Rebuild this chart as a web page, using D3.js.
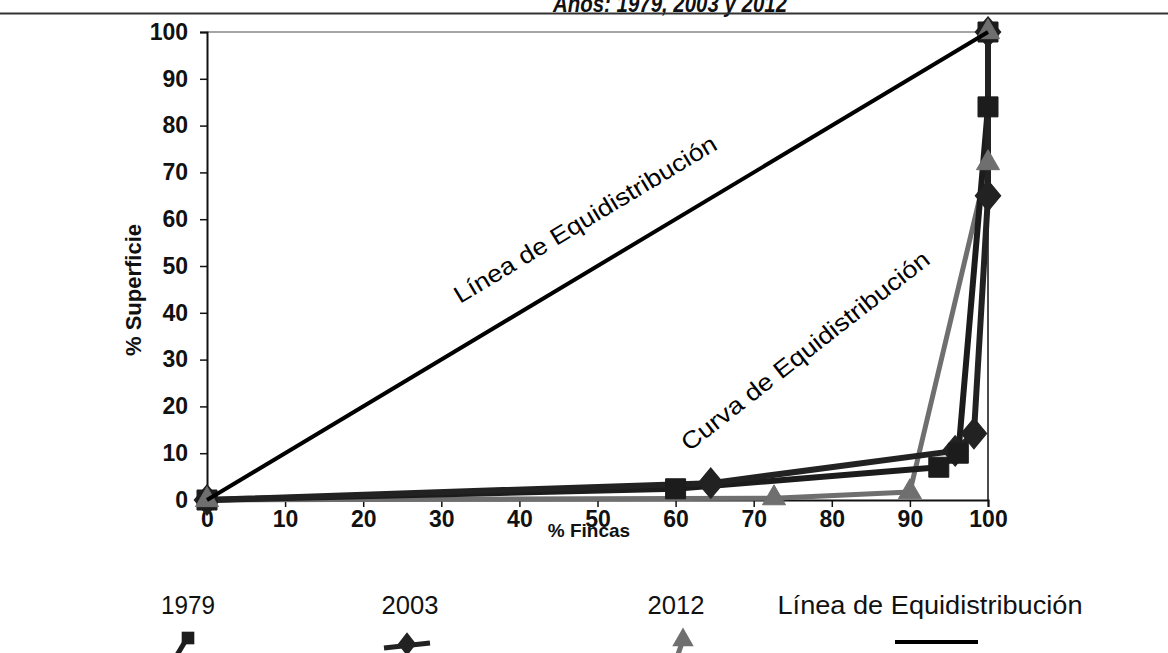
<!DOCTYPE html>
<html><head><meta charset="utf-8">
<script src="https://cdn.jsdelivr.net/npm/d3@7"></script>
<style>body{margin:0;background:#fff}svg{display:block}</style>
</head><body>
<svg id="c" width="1168" height="653"></svg>
<script>
const titleText = "Años: 1979, 2003 y 2012";
const xLabel = "% Fincas";
const yLabel = "% Superficie";
const xTicks = [0, 10, 20, 30, 40, 50, 60, 70, 80, 90, 100];
const yTicks = [0, 10, 20, 30, 40, 50, 60, 70, 80, 90, 100];

const fincas1979 = [0, 60, 93.7, 96.2, 100, 100];
const superficie1979 = [0, 2.4, 7.0, 10.0, 84, 100];
const fincas2003 = [0, 64.5, 95.8, 98.2, 100, 100];
const superficie2003 = [0, 3.6, 10.5, 14.2, 65, 100];
const fincas2012 = [0, 72.6, 90, 100, 100];
const superficie2012 = [0, 0.4, 1.7, 72, 100];
const fincasEqui = [0, 100];
const superficieEqui = [0, 100];

const legendLabels = ["1979", "2003", "2012", "Línea de Equidistribución"];
const annotations = ["Línea de Equidistribución", "Curva de Equidistribución"];

const svg = d3.select("#c");
const font = "'Liberation Sans', Arial, sans-serif";
const x = d3.scaleLinear().domain([0, 100]).range([207, 988]);
const y = d3.scaleLinear().domain([0, 100]).range([500, 32]);

// title (cut off at top) and rule
svg.append("text").attr("x", 670).attr("y", 12).attr("text-anchor", "middle")
  .attr("font-family", font).attr("font-size", 24).attr("font-weight", "bold").attr("font-style", "italic")
  .attr("fill", "#111").attr("textLength", 234).attr("lengthAdjust", "spacingAndGlyphs").text(titleText);
svg.append("line").attr("x1", 0).attr("x2", 1168).attr("y1", 13.5).attr("y2", 13.5)
  .attr("stroke", "#333").attr("stroke-width", 2);

// frame
svg.append("line").attr("x1", x(0)).attr("x2", x(100)).attr("y1", y(100)).attr("y2", y(100))
  .attr("stroke", "#888").attr("stroke-width", 1.5);
svg.append("line").attr("x1", x(100)).attr("x2", x(100)).attr("y1", y(100)).attr("y2", y(0))
  .attr("stroke", "#111").attr("stroke-width", 1.5);

// axes
const ax = svg.append("g").attr("transform", `translate(0,${y(0)})`)
  .call(d3.axisBottom(x).tickValues(xTicks).tickSize(7).tickPadding(4).tickFormat(d3.format("d")));
const ay = svg.append("g").attr("transform", `translate(${x(0)},0)`)
  .call(d3.axisLeft(y).tickValues(yTicks).tickSize(7).tickPadding(12).tickFormat(d3.format("d")));
[ax, ay].forEach(a => {
  a.select(".domain").attr("stroke", "#111").attr("stroke-width", 2);
  a.selectAll(".tick line").attr("stroke", "#111").attr("stroke-width", 1.5);
  a.selectAll(".tick text").attr("font-family", font).attr("font-size", 23)
    .attr("font-weight", "bold").attr("fill", "#111");
});

svg.append("text").attr("x", 589).attr("y", 537).attr("text-anchor", "middle")
  .attr("font-family", font).attr("font-size", 19).attr("font-weight", "bold").attr("fill", "#111")
  .text(xLabel);
svg.append("text").attr("transform", "translate(141,290) rotate(-90)").attr("text-anchor", "middle")
  .attr("font-family", font).attr("font-size", 22).attr("font-weight", "bold").attr("fill", "#111")
  .text(yLabel);

// series
const series = [
  {name: "1979", xs: fincas1979, ys: superficie1979, color: "#1c1c1c", width: 6, shape: d3.symbolSquare, size: 400},
  {name: "2003", xs: fincas2003, ys: superficie2003, color: "#222", width: 6, shape: d3.symbolDiamond, size: 330},
  {name: "2012", xs: fincas2012, ys: superficie2012, color: "#6f6f6f", width: 5, shape: d3.symbolTriangle, size: 230}
];
const line = d3.line().x(d => x(d[0])).y(d => y(d[1]));

[series[2], series[0], series[1]].forEach(s => {
  const pts = s.xs.map((v, i) => [v, s.ys[i]]);
  svg.append("path").datum(pts).attr("d", line).attr("fill", "none")
    .attr("stroke", s.color).attr("stroke-width", s.width).attr("stroke-linejoin", "round");
});
[series[1], series[0], series[2]].forEach(s => {
  const pts = s.xs.map((v, i) => [v, s.ys[i]]);
  svg.append("g").selectAll("path").data(pts).join("path")
    .attr("d", d3.symbol().type(s.shape).size(s.size))
    .attr("transform", d => `translate(${x(d[0])},${y(d[1])})` + (s.shape === d3.symbolDiamond ? " scale(1.3,0.9)" : ""))
    .attr("fill", s.color).attr("stroke", s.color).attr("stroke-width", 1);
});

// equidistribution line
const equiPts = fincasEqui.map((v, i) => [v, superficieEqui[i]]);
svg.append("path").datum(equiPts).attr("d", line).attr("fill", "none")
  .attr("stroke", "#000").attr("stroke-width", 4);

// annotations
svg.append("text").attr("transform", "translate(460,304) rotate(-31)")
  .attr("font-family", font).attr("font-size", 24).attr("fill", "#000")
  .attr("textLength", 302).attr("lengthAdjust", "spacingAndGlyphs").text(annotations[0]);
svg.append("text").attr("transform", "translate(689,452) rotate(-38)")
  .attr("font-family", font).attr("font-size", 24).attr("fill", "#000")
  .attr("textLength", 308).attr("lengthAdjust", "spacingAndGlyphs").text(annotations[1]);

// legend
const legendX = [188, 410, 676, 930];
const legendW = [54, 57, 57, 305];
const leg = svg.append("g");
legendLabels.forEach((t, i) => {
  leg.append("text").attr("x", legendX[i]).attr("y", 614).attr("text-anchor", "middle")
    .attr("font-family", font).attr("font-size", 25).attr("fill", "#111")
    .attr("textLength", legendW[i]).attr("lengthAdjust", "spacingAndGlyphs").text(t);
});
// legend symbols
leg.append("line").attr("x1", 177).attr("y1", 655).attr("x2", 186).attr("y2", 640)
  .attr("stroke", series[0].color).attr("stroke-width", 5);
leg.append("path").attr("d", d3.symbol().type(d3.symbolSquare).size(160)).attr("transform", "translate(188,638)")
  .attr("fill", series[0].color);
leg.append("line").attr("x1", 384).attr("y1", 648).attr("x2", 430).attr("y2", 643)
  .attr("stroke", series[1].color).attr("stroke-width", 5);
leg.append("path").attr("d", d3.symbol().type(d3.symbolDiamond).size(200)).attr("transform", "translate(407,644) scale(1.2,0.9)")
  .attr("fill", series[1].color);
leg.append("line").attr("x1", 676).attr("y1", 660).attr("x2", 683).attr("y2", 640)
  .attr("stroke", series[2].color).attr("stroke-width", 5);
leg.append("path").attr("d", d3.symbol().type(d3.symbolTriangle).size(200)).attr("transform", "translate(683,640)")
  .attr("fill", series[2].color);
leg.append("line").attr("x1", 895).attr("y1", 642).attr("x2", 978).attr("y2", 642)
  .attr("stroke", "#000").attr("stroke-width", 4);
</script>
</body></html>
